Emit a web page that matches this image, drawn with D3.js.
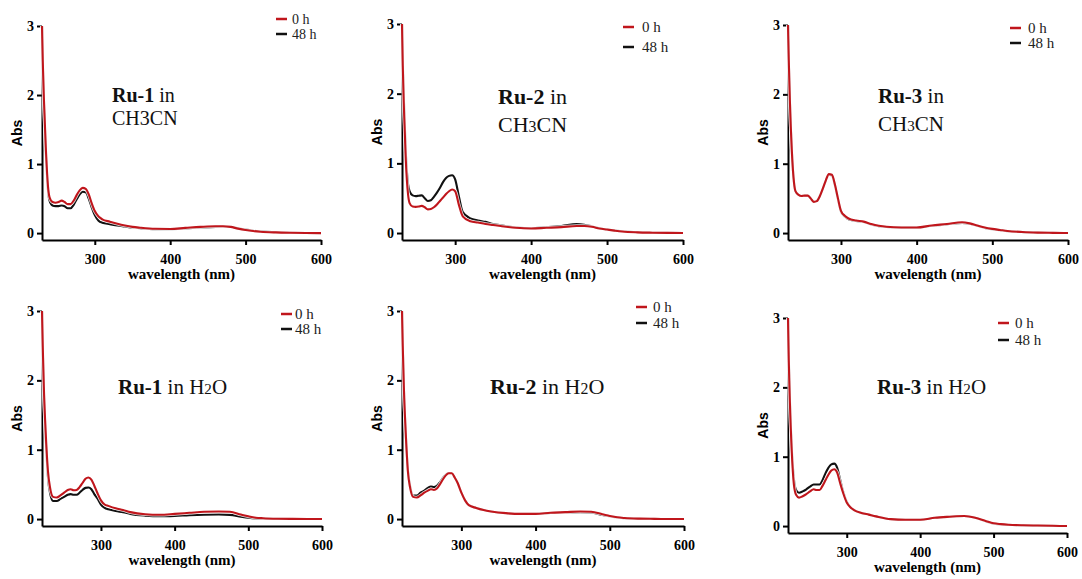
<!DOCTYPE html>
<html><head><meta charset="utf-8">
<script src="https://cdn.jsdelivr.net/npm/d3@7"></script>
<style>
html,body{margin:0;padding:0;background:#fff;}
svg{display:block;}
.serif{font-family:"Liberation Serif","Times New Roman",Times,serif;}
.sans{font-family:"Liberation Sans",Arial,Helvetica,sans-serif;}
</style></head>
<body>
<svg id="chart" width="1082" height="579"></svg>
<script>
// ---------- DATA ----------
const seriesNames = ["0 h", "48 h"];
const xTicks = [300, 400, 500, 600];
const yTicks = [0, 1, 2, 3];

// wavelength grids (nm)
const wlRow1 = [230,231,232.5,235,238,240,244,248,252,256,260,264,268,272,276,280,284,288,292,296,300,305,310,320,330,340,350,360,380,400,420,440,460,470,480,490,500,510,520,540,560,580,600];
const wlRow2 = [220,221,222.5,225,228,231,235,240,245,250,255,259,263,267,271,275,279,283,287,291,295,300,305,310,320,330,340,360,380,400,420,440,460,475,490,500,510,520,540,560,580,600];

// Ru-1 in CH3CN
const ru1AcnRed   = [3.0,2.5,1.95,1.25,0.67,0.52,0.45,0.44,0.45,0.47,0.45,0.42,0.42,0.47,0.55,0.62,0.655,0.64,0.56,0.43,0.32,0.24,0.2,0.165,0.135,0.11,0.09,0.078,0.062,0.06,0.075,0.09,0.1,0.1,0.09,0.065,0.045,0.03,0.02,0.01,0.005,0.002,0];
const ru1AcnBlack = [3.0,2.45,1.9,1.2,0.62,0.47,0.4,0.39,0.39,0.4,0.39,0.36,0.36,0.41,0.49,0.56,0.6,0.59,0.5,0.37,0.26,0.18,0.15,0.13,0.11,0.095,0.08,0.07,0.058,0.058,0.068,0.08,0.09,0.095,0.09,0.07,0.05,0.035,0.025,0.012,0.006,0.002,0];
// Ru-2 in CH3CN
const ru2AcnRed   = [3.0,2.4,1.8,1.05,0.55,0.43,0.38,0.375,0.38,0.39,0.37,0.34,0.345,0.37,0.41,0.46,0.51,0.56,0.6,0.625,0.6,0.4,0.24,0.17,0.15,0.13,0.115,0.1,0.075,0.065,0.075,0.085,0.1,0.1,0.09,0.065,0.05,0.035,0.022,0.01,0.005,0.002,0];
const ru2AcnBlack = [3.0,2.45,1.9,1.15,0.7,0.6,0.54,0.53,0.535,0.54,0.5,0.46,0.47,0.52,0.58,0.65,0.73,0.79,0.82,0.83,0.77,0.52,0.3,0.21,0.18,0.16,0.13,0.11,0.08,0.068,0.085,0.1,0.13,0.12,0.095,0.07,0.05,0.035,0.025,0.012,0.005,0.002,0];
// Ru-3 in CH3CN
const ru3AcnRed   = [3.0,2.5,1.9,1.2,0.72,0.6,0.55,0.535,0.54,0.54,0.5,0.45,0.46,0.53,0.64,0.76,0.85,0.84,0.7,0.5,0.32,0.25,0.21,0.18,0.165,0.13,0.105,0.09,0.08,0.08,0.11,0.13,0.155,0.14,0.11,0.08,0.06,0.045,0.03,0.015,0.007,0.003,0];
const ru3AcnBlack = [3.0,2.5,1.9,1.2,0.72,0.6,0.55,0.535,0.54,0.54,0.5,0.45,0.46,0.53,0.64,0.76,0.84,0.83,0.69,0.49,0.31,0.24,0.2,0.175,0.16,0.125,0.1,0.088,0.078,0.078,0.105,0.125,0.145,0.135,0.105,0.075,0.055,0.04,0.028,0.014,0.006,0.003,0];
// Ru-1 in H2O
const ru1WatRed   = [3.0,2.5,1.9,1.25,0.7,0.45,0.32,0.31,0.34,0.38,0.42,0.43,0.415,0.42,0.46,0.52,0.58,0.6,0.57,0.48,0.38,0.27,0.21,0.19,0.155,0.13,0.1,0.07,0.062,0.075,0.09,0.105,0.11,0.105,0.065,0.04,0.02,0.012,0.005,0.003,0.001,0];
const ru1WatBlack = [3.0,2.45,1.85,1.2,0.62,0.37,0.26,0.26,0.29,0.32,0.35,0.36,0.35,0.35,0.38,0.42,0.45,0.455,0.43,0.36,0.3,0.21,0.16,0.14,0.115,0.1,0.075,0.05,0.04,0.045,0.055,0.062,0.065,0.06,0.035,0.02,0.01,0.006,0.003,0.001,0,0];
// Ru-2 in H2O
const ru2WatRed   = [3.0,2.5,1.9,1.25,0.68,0.45,0.32,0.31,0.34,0.38,0.41,0.43,0.42,0.44,0.5,0.57,0.63,0.66,0.66,0.6,0.52,0.38,0.27,0.2,0.16,0.13,0.11,0.085,0.075,0.075,0.09,0.1,0.11,0.105,0.07,0.045,0.025,0.015,0.006,0.003,0.001,0];
const ru2WatBlack = [3.0,2.5,1.9,1.25,0.7,0.47,0.34,0.34,0.38,0.41,0.45,0.47,0.46,0.48,0.53,0.59,0.64,0.665,0.66,0.6,0.52,0.38,0.27,0.2,0.16,0.13,0.11,0.085,0.075,0.075,0.088,0.095,0.1,0.095,0.06,0.04,0.022,0.013,0.005,0.003,0.001,0];
// Ru-3 in H2O
const ru3WatRed   = [3.0,2.4,1.8,1.1,0.6,0.45,0.41,0.43,0.46,0.5,0.53,0.52,0.52,0.58,0.66,0.74,0.8,0.82,0.77,0.62,0.48,0.34,0.27,0.23,0.19,0.165,0.14,0.1,0.09,0.09,0.12,0.135,0.145,0.12,0.07,0.04,0.028,0.02,0.012,0.008,0.004,0];
const ru3WatBlack = [3.0,2.45,1.85,1.15,0.68,0.52,0.48,0.5,0.53,0.57,0.6,0.6,0.6,0.66,0.76,0.84,0.89,0.9,0.84,0.67,0.5,0.35,0.27,0.23,0.19,0.165,0.14,0.1,0.09,0.09,0.12,0.135,0.145,0.12,0.065,0.035,0.025,0.018,0.01,0.006,0.003,0];

const compounds = ["Ru-1", "Ru-2", "Ru-3", "Ru-1", "Ru-2", "Ru-3"];

// ---------- LAYOUT ----------
const panels = [
  {wl: wlRow1, red: ru1AcnRed, black: ru1AcnBlack, solvent: "acn", sub3Small: false,
   L: 42, R: 321, T: 26, B: 240, x0: 230, ann: {x: 112, y: 102, fs: 20, lh: 23},
   leg: {lx: 276, tx: 292, y: 19, dy: 15, fs: 14}},
  {wl: wlRow1, red: ru2AcnRed, black: ru2AcnBlack, solvent: "acn", sub3Small: true,
   L: 402, R: 683, T: 24, B: 240, x0: 230, ann: {x: 498, y: 104, fs: 22, lh: 28},
   leg: {lx: 623, tx: 642, y: 27, dy: 20, fs: 15}},
  {wl: wlRow1, red: ru3AcnRed, black: ru3AcnBlack, solvent: "acn", sub3Small: true,
   L: 788, R: 1068, T: 25, B: 240, x0: 230, ann: {x: 878, y: 103, fs: 21, lh: 28},
   leg: {lx: 1010, tx: 1028, y: 28, dy: 15, fs: 15}},
  {wl: wlRow2, red: ru1WatRed, black: ru1WatBlack, solvent: "wat",
   L: 42, R: 322, T: 311, B: 526, x0: 220, ann: {x: 118, y: 394, fs: 21},
   leg: {lx: 281, tx: 295, y: 314, dy: 15, fs: 15}},
  {wl: wlRow2, red: ru2WatRed, black: ru2WatBlack, solvent: "wat",
   L: 402, R: 684, T: 311, B: 526, x0: 220, ann: {x: 490, y: 394, fs: 22},
   leg: {lx: 636, tx: 653, y: 307, dy: 16, fs: 15}},
  {wl: wlRow2, red: ru3WatRed, black: ru3WatBlack, solvent: "wat",
   L: 788, R: 1067, T: 318, B: 533, x0: 220, ann: {x: 877, y: 394, fs: 21},
   leg: {lx: 998, tx: 1015, y: 323, dy: 17, fs: 15}}
];

const RED = "#c0161c", BLACK = "#111";

const svg = d3.select("#chart");

panels.forEach((p, i) => {
  const x = d3.scaleLinear().domain([p.x0, 600]).range([p.L, p.R]);
  const y = d3.scaleLinear().domain([-0.1, 3]).range([p.B, p.T]);
  const g = svg.append("g");

  // axes
  const xa = g.append("g").attr("transform", `translate(0,${p.B})`)
    .call(d3.axisBottom(x).tickValues(xTicks).tickSize(5).tickSizeOuter(0).tickPadding(9).tickFormat(d3.format("d")));
  const ya = g.append("g").attr("transform", `translate(${p.L},0)`)
    .call(d3.axisLeft(y).tickValues(yTicks).tickSize(5).tickSizeOuter(0).tickPadding(3).tickFormat(d3.format("d")));
  [xa, ya].forEach(a => {
    a.attr("font-family", null).attr("font-size", null).attr("class", "serif");
    a.select(".domain").attr("stroke", "#000").attr("stroke-width", 2);
    a.selectAll(".tick line").attr("stroke", "#000").attr("stroke-width", 2);
    a.selectAll(".tick text").attr("fill", "#000").attr("class", "serif")
      .attr("font-weight", "bold").attr("font-size", 14);
  });

  // lines
  const line = d3.line().x((d, k) => x(p.wl[k])).y(d => y(d)).curve(d3.curveMonotoneX);
  [[p.black, BLACK], [p.red, RED]].forEach(([vals, col]) => {
    g.append("path").datum(vals).attr("d", line).attr("fill", "none")
      .attr("stroke", "#fff").attr("stroke-width", 3.6).attr("stroke-opacity", 0.85);
    g.append("path").datum(vals).attr("d", line).attr("fill", "none")
      .attr("stroke", col).attr("stroke-width", 2.1).attr("stroke-linejoin", "round");
  });

  // axis titles
  g.append("text").attr("class", "serif").attr("x", (p.L + p.R) / 2).attr("y", p.B + 39).attr("text-anchor", "middle")
    .attr("font-weight", "bold").attr("font-size", 15).text("wavelength (nm)");
  g.append("text").attr("class", "sans").attr("transform", `translate(${p.L - 20},${(p.T + p.B) / 2}) rotate(-90)`)
    .attr("text-anchor", "middle").attr("font-weight", "bold").attr("font-size", 14).text("Abs");

  // legend
  [RED, BLACK].forEach((col, k) => {
    const yy = p.leg.y + k * p.leg.dy;
    g.append("line").attr("x1", p.leg.lx).attr("x2", p.leg.lx + 11).attr("y1", yy).attr("y2", yy)
      .attr("stroke", col).attr("stroke-width", 2.5);
    g.append("text").attr("class", "serif").attr("x", p.leg.tx).attr("y", yy).attr("dy", "0.35em")
      .attr("font-size", p.leg.fs).attr("fill", "#222").text(seriesNames[k]);
  });

  // annotation
  const a = p.ann;
  const t1 = g.append("text").attr("class", "serif").attr("x", a.x).attr("y", a.y)
    .attr("font-size", a.fs).attr("fill", "#111");
  t1.append("tspan").attr("font-weight", "bold").text(compounds[i]);
  if (p.solvent === "acn") {
    t1.append("tspan").text(" in");
    const t2 = g.append("text").attr("class", "serif").attr("x", a.x).attr("y", a.y + a.lh)
      .attr("font-size", a.fs).attr("fill", "#111");
    t2.append("tspan").text("CH");
    t2.append("tspan").attr("font-size", p.sub3Small ? a.fs * 0.72 : null).text("3");
    t2.append("tspan").text("CN");
  } else {
    t1.append("tspan").text(" in H");
    t1.append("tspan").attr("font-size", a.fs * 0.72).text("2");
    t1.append("tspan").text("O");
  }
});
</script>
</body></html>
